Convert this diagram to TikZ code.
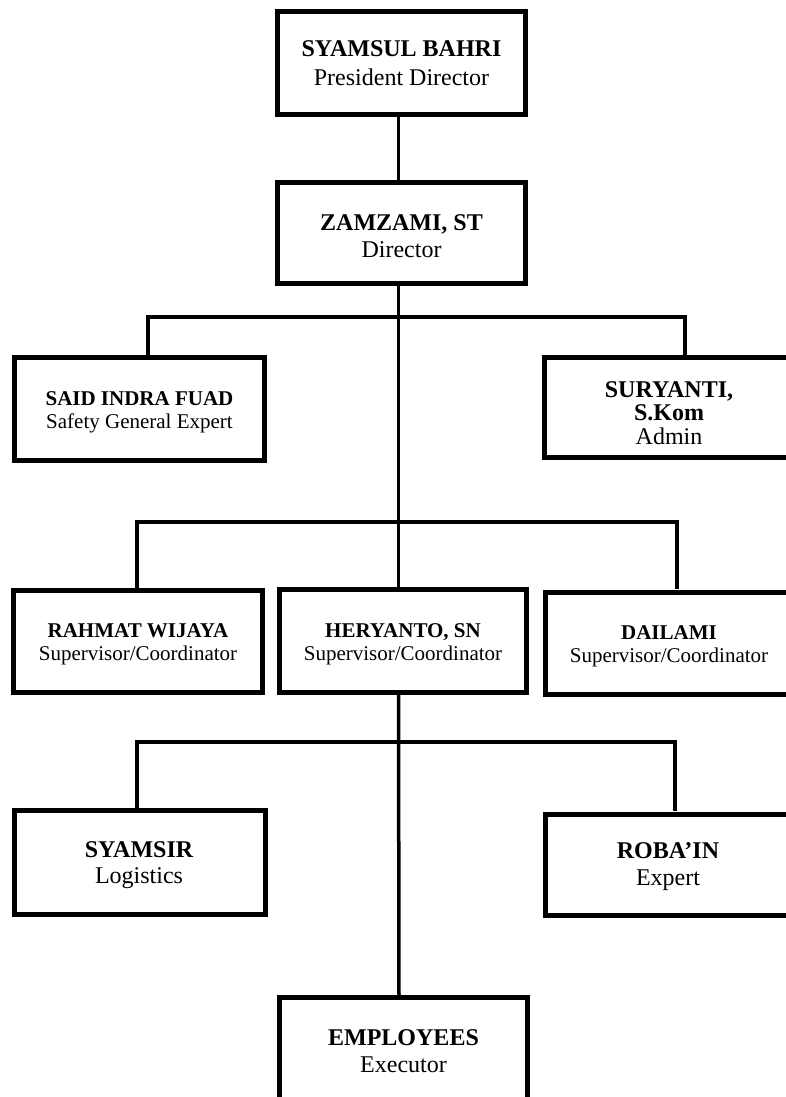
\documentclass[tikz,border=0pt]{standalone}
\usepackage{fontspec}
\setmainfont{Liberation Serif}
\begin{document}
\begin{tikzpicture}[x=1pt,y=-1pt,
  box/.style={draw, line width=5pt, rectangle, inner sep=0pt, outer sep=0pt},
  conn/.style={line width=3.5pt, line join=miter},
  big/.style={anchor=base, inner sep=0pt, font=\fontsize{24}{27}\selectfont},
  bign/.style={anchor=base, inner sep=0pt, font=\fontsize{24}{27}\selectfont\bfseries},
  small/.style={anchor=base, inner sep=0pt, font=\fontsize{21}{23}\selectfont},
  smalln/.style={anchor=base, inner sep=0pt, font=\fontsize{21}{23}\selectfont\bfseries}]
\useasboundingbox (0,0) rectangle (786,1097);

% connectors (drawn first, boxes on top)
\coordinate (j1) at (398.5,317);
\coordinate (j2) at (398.5,522);
\coordinate (j3) at (398.5,742);

% boxes
\node[box, minimum width=248pt, minimum height=103pt] (b1) at (401.5,63) {};
\node[box, minimum width=248pt, minimum height=101pt] (b2) at (401.5,233) {};
\node[box, minimum width=250pt, minimum height=103pt] (b3) at (139.5,409) {};
\node[box, minimum width=249pt, minimum height=100pt] (b4) at (669,407.5) {};
\node[box, minimum width=249pt, minimum height=102pt] (b5) at (138,641.5) {};
\node[box, minimum width=247pt, minimum height=103pt] (b6) at (403,641) {};
\node[box, minimum width=247pt, minimum height=102pt] (b7) at (669,643.5) {};
\node[box, minimum width=251pt, minimum height=104pt] (b8) at (140,862.5) {};
\node[box, minimum width=247pt, minimum height=101pt] (b9) at (669,865) {};
\node[box, minimum width=248pt, minimum height=110pt] (b10) at (403.5,1052.5) {};

\draw[conn] ([xshift=-3pt]b1.south) -- ([xshift=-3pt]b2.north);
\draw[conn] ([xshift=-3pt]b2.south) -- ([xshift=-4.5pt]b6.north);
\draw[conn] ([xshift=-4.5pt]b6.south) -- ([xshift=-4.5pt]b10.north);
\draw[conn] ([xshift=8.5pt]b3.north) |- (j1) -| ([xshift=16pt]b4.north);
\draw[conn, shorten >=4pt] ([xshift=-1pt]b5.north) |- (j2) -| ([xshift=8pt]b7.north);
\draw[conn, shorten >=4pt] ([xshift=-3pt]b8.north) |- (j3) -| ([xshift=6pt]b9.north);

% texts
\node[bign] (t1a) at (401.5,57) {SYAMSUL BAHRI};
\node[big] (t1b) at (401.5,86) {President Director};
\node[bign] (t2a) at (401.5,230) {ZAMZAMI, ST};
\node[big] (t2b) at (401.5,257) {Director};
\node[smalln] (t3a) at (139.5,405) {SAID INDRA FUAD};
\node[small] (t3b) at (139.5,428) {Safety General Expert};
\node[bign] (t4a) at (669,397) {SURYANTI,};
\node[bign] (t4b) at (669,420.5) {S.Kom};
\node[big] (t4c) at (669,444) {Admin};
\node[smalln] (t5a) at (138,637) {RAHMAT WIJAYA};
\node[small] (t5b) at (138,660) {Supervisor/Coordinator};
\node[smalln] (t6a) at (403,637) {HERYANTO, SN};
\node[small] (t6b) at (403,660) {Supervisor/Coordinator};
\node[smalln] (t7a) at (669,639) {DAILAMI};
\node[small] (t7b) at (669,662) {Supervisor/Coordinator};
\node[bign] (t8a) at (139,857) {SYAMSIR};
\node[big] (t8b) at (139,883) {Logistics};
\node[bign] (t9a) at (668,858) {ROBA’IN};
\node[big] (t9b) at (668,885) {Expert};
\node[bign] (t10a) at (403.5,1045) {EMPLOYEES};
\node[big] (t10b) at (403.5,1072) {Executor};
\end{tikzpicture}
\end{document}
